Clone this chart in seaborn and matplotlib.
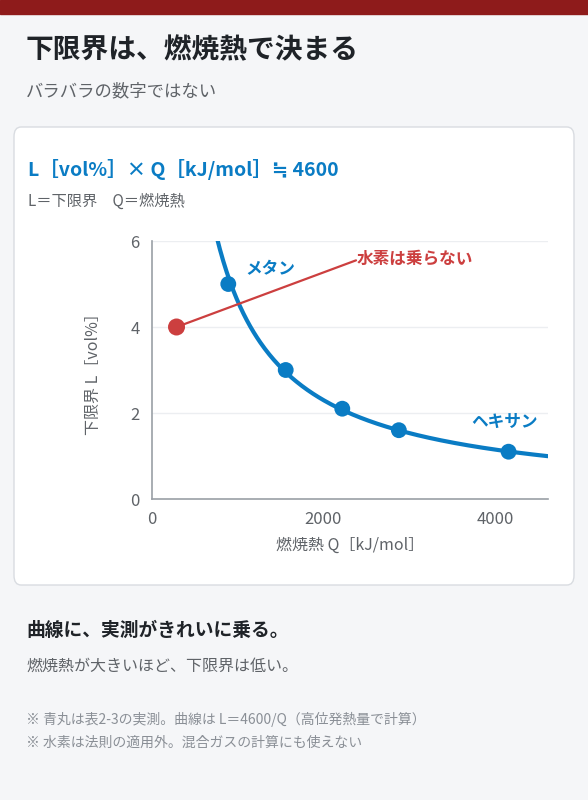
import matplotlib.pyplot as plt
import seaborn as sns
import numpy as np
import pandas as pd
from matplotlib.patches import FancyBboxPatch, Rectangle

# measured points (table 2-3)
gas_names = ['メタン', 'エタン', 'プロパン', 'ブタン', 'ヘキサン']
heat_q = [890, 1560, 2220, 2880, 4160]
lower_l = [5.0, 3.0, 2.1, 1.6, 1.1]
h2_q = [286]
h2_l = [4.0]
const_k = 4600

blue = '#0a7cc4'
red = '#cc3f3f'
dark = '#1f2328'
grey = '#5f6368'

sns.set_theme(style='white')
plt.rcParams['font.family'] = ['Noto Sans CJK JP', 'DejaVu Sans']

fig = plt.figure(figsize=(5.88, 8), dpi=100)
fig.patch.set_facecolor('#f5f6f8')
fig.add_artist(Rectangle((0, 1 - 14 / 800), 1, 14 / 800, transform=fig.transFigure,
                         color='#8e1b1b', zorder=0))
fig.add_artist(FancyBboxPatch((14 / 588, 215 / 800), 560 / 588, 458 / 800,
                              boxstyle='round,pad=0,rounding_size=0.012',
                              transform=fig.transFigure, facecolor='white',
                              edgecolor='#d9dce1', lw=1, zorder=0))

def ftext(x, y, s, **kw):
    fig.text(x / 588, 1 - y / 800, s, va='center', ha='left', **kw)

ftext(26, 50, '下限界は、燃焼熱で決まる', fontsize=20, fontweight='bold', color=dark)
ftext(26, 91, 'バラバラの数字ではない', fontsize=12.5, color=grey)
ftext(28, 169, 'L［vol%］× Q［kJ/mol］≒ 4600', fontsize=14, fontweight='bold', color=blue)
ftext(28, 201, 'L＝下限界　Q＝燃焼熱', fontsize=11, color=grey)
ftext(26, 630, '曲線に、実測がきれいに乗る。', fontsize=13.5, fontweight='bold', color=dark)
ftext(26, 666, '燃焼熱が大きいほど、下限界は低い。', fontsize=11.5, color=grey)
ftext(26, 719, '※ 青丸は表2-3の実測。曲線は L＝4600/Q（高位発熱量で計算）', fontsize=10, color='#8a8f96')
ftext(26, 743, '※ 水素は法則の適用外。混合ガスの計算にも使えない', fontsize=10, color='#8a8f96')

ax = fig.add_axes([152 / 588, 301 / 800, 396 / 588, 258 / 800])
ax.set_facecolor('white')

qs = np.linspace(700, 4620, 300)
curve = pd.DataFrame({'Q': qs, 'L': const_k / qs})
sns.lineplot(data=curve, x='Q', y='L', color=blue, lw=3, ax=ax)
pts = pd.DataFrame({'Q': heat_q, 'L': lower_l, 'gas': gas_names})
sns.scatterplot(data=pts, x='Q', y='L', color=blue, s=130, edgecolor='none', ax=ax, zorder=5)
sns.scatterplot(x=h2_q, y=h2_l, color=red, s=150, edgecolor='none', ax=ax, zorder=5)

ax.plot([h2_q[0], 2380], [h2_l[0], 5.55], color=red, lw=1.6)
ax.text(2390, 5.6, '水素は乗らない', color=red, fontsize=12, fontweight='bold', va='center')
ax.text(1090, 5.35, 'メタン', color=blue, fontsize=12, fontweight='bold', va='center')
ax.text(3720, 1.8, 'ヘキサン', color=blue, fontsize=12, fontweight='bold', va='center')

ax.set_xlim(0, 4620)
ax.set_ylim(0, 6)
ax.set_xticks([0, 2000, 4000])
ax.set_yticks([0, 2, 4, 6])
ax.grid(axis='y', color='#eceef1', lw=1)
for s in ['top', 'right']:
    ax.spines[s].set_visible(False)
for s in ['left', 'bottom']:
    ax.spines[s].set_color('#9aa0a6')
    ax.spines[s].set_linewidth(1.2)
ax.tick_params(labelsize=12, colors='#5f6368', length=0, pad=9)
ax.set_xlabel('燃焼熱 Q［kJ/mol］', fontsize=11.5, color=grey, labelpad=6)
ax.set_ylabel('下限界 L［vol%］', fontsize=11.5, color=grey, labelpad=20)

plt.savefig('out.png', dpi=100, facecolor=fig.get_facecolor())
